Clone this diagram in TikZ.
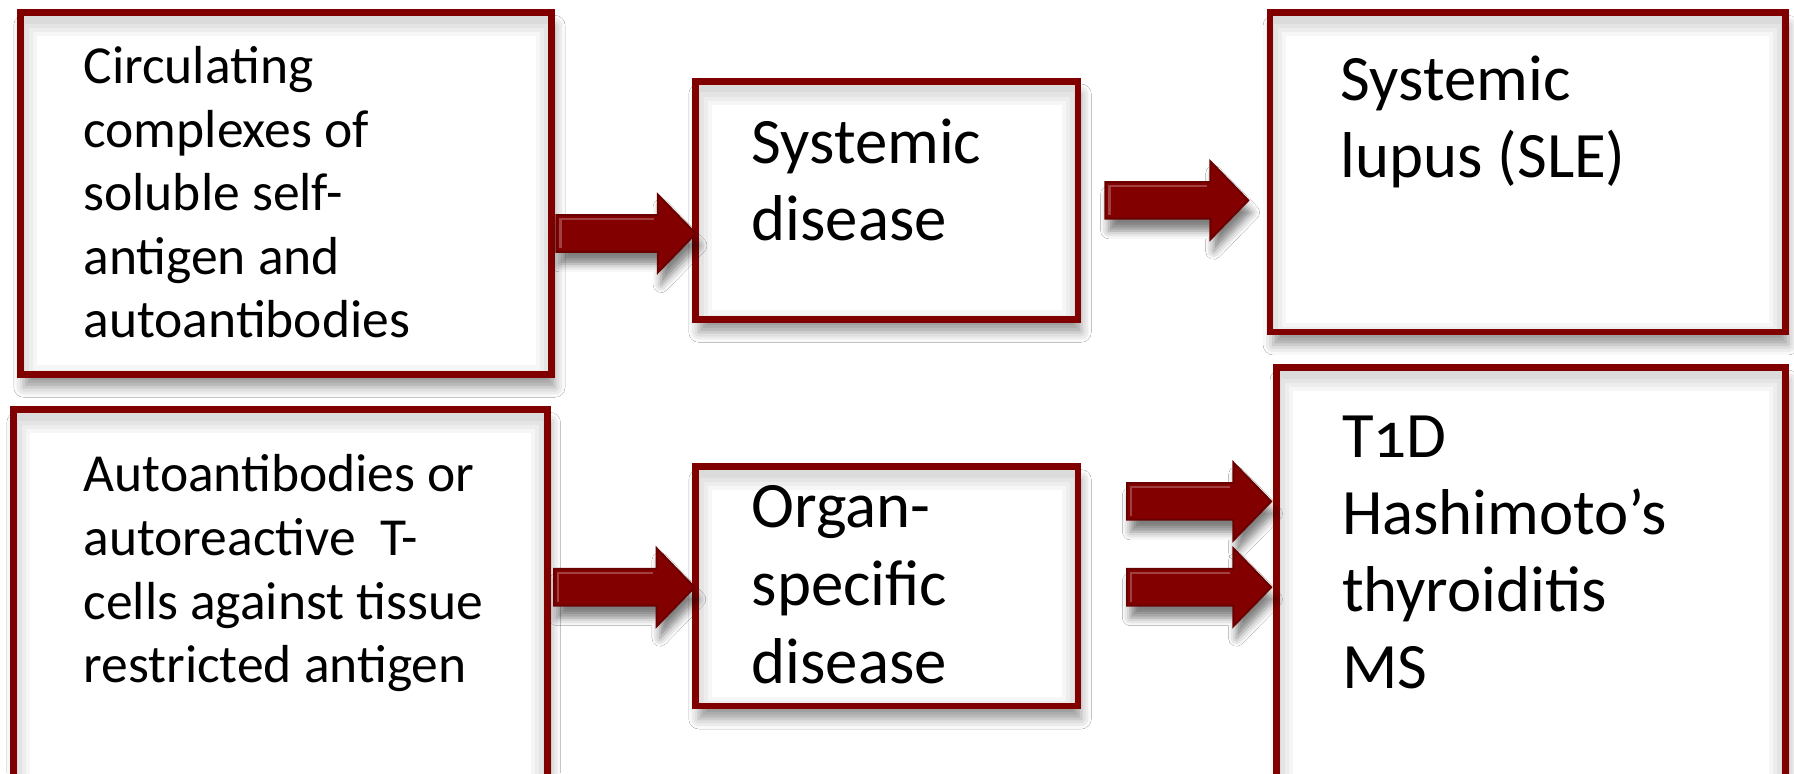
\documentclass[tikz,border=0pt]{standalone}
\usepackage{fontspec}
\setmainfont{Carlito}
\usetikzlibrary{calc,shadows.blur}
\definecolor{boxred}{HTML}{800000}
\definecolor{arrowred}{HTML}{820000}
\definecolor{arrowdark}{HTML}{6A0000}
\newcommand\txtlines[1]{\begin{tabular}[t]{@{}l@{}}#1\end{tabular}}
\newcommand\uu{0.28453pt}
\tikzset{
  diagbox/.style={draw=boxred, line width=1.7pt, fill=white, rectangle,
    outer sep=0pt, inner sep=0pt, anchor=north west,
    blur shadow={shadow xshift=0.8pt, shadow yshift=-3.2pt, shadow blur radius=2.5pt, shadow opacity=40}},
  txt/.style={anchor=base west, inner sep=0pt, outer sep=0pt, text=black},
  smalltxt/.style={font=\fontsize{13.3}{15.8}\selectfont},
  largetxt/.style={font=\fontsize{16.1}{19.1}\selectfont},
  fatarrow/.style={fill=arrowred, draw=arrowdark, line width=0.5pt, line join=miter,
    blur shadow={shadow xshift=0.8pt, shadow yshift=-3pt, shadow blur radius=2pt, shadow opacity=50}},
}
% #1 start anchor, #2 start x offset, #3 tip anchor, #4 tip x offset, #5 y (downward units)
\newcommand\fatarr[5]{%
  \path[fatarrow] let \p1=(#1), \p2=(#3) in
    ({\x1+#2*\uu}, {-#5*\uu+4.55pt}) -- ({\x2+#4*\uu-9.39pt}, {-#5*\uu+4.55pt})
    -- ({\x2+#4*\uu-9.39pt}, {-#5*\uu+9.67pt}) -- ({\x2+#4*\uu}, {-#5*\uu})
    -- ({\x2+#4*\uu-9.39pt}, {-#5*\uu-9.67pt}) -- ({\x2+#4*\uu-9.39pt}, {-#5*\uu-4.55pt})
    -- ({\x1+#2*\uu}, {-#5*\uu-4.55pt}) -- cycle;
  \path[draw=white, opacity=0.25, line width=0.6pt] let \p1=(#1), \p2=(#3) in
    ({\x1+#2*\uu+1pt}, {-#5*\uu-3.6pt}) -- ({\x1+#2*\uu+1pt}, {-#5*\uu+3.6pt})
    -- ({\x2+#4*\uu-10.3pt}, {-#5*\uu+3.6pt});
}
\newcommand\innershade[1]{%
  \begin{scope}
    \clip (#1.south west) rectangle (#1.north east);
    \foreach \w in {2,4,6,8}
      \draw[black, opacity=0.035, line width=\w pt]
        ([yshift=-1.8pt]#1.south west) rectangle ([yshift=-1.8pt]#1.north east);
  \end{scope}
  \draw[boxred, line width=1.7pt] (#1.south west) rectangle (#1.north east);
}
\begin{document}
\begin{tikzpicture}[x=0.01cm,y=0.01cm]
\fill[white] (0,0) rectangle (1568,-676);
\useasboundingbox (0,0) rectangle (1568,-676);
\clip (0,0) rectangle (1568,-676);

% boxes
\node[diagbox, minimum width=4.64cm, minimum height=3.16cm] (A) at (18,-11) {};
\node[diagbox, minimum width=4.66cm, minimum height=3.42cm] (B) at (12,-358) {};
\node[diagbox, minimum width=3.34cm, minimum height=2.08cm] (C) at (608,-71) {};
\node[diagbox, minimum width=3.34cm, minimum height=2.09cm] (D) at (608,-408) {};
\node[diagbox, minimum width=4.50cm, minimum height=2.79cm] (E) at (1110,-11) {};
\node[diagbox, minimum width=4.44cm, minimum height=3.79cm] (F) at (1116,-321) {};
\innershade{A}
\innershade{B}
\innershade{C}
\innershade{D}
\innershade{E}
\innershade{F}

% texts
\node[txt, smalltxt] (At) at (73,-73) {\txtlines{Circulating\\complexes of\\soluble self-\\antigen and\\autoantibodies}};
\node[txt, smalltxt] (Bt) at (73,-430) {\txtlines{Autoantibodies or\\autoreactive\ \ T-\\cells against tissue\\restricted antigen}};
\node[txt, largetxt] (Ct) at (657,-143) {\txtlines{Systemic\\disease}};
\node[txt, font=\fontsize{16.1}{19.35}\selectfont] (Dt) at (657,-461) {\txtlines{Organ-\\specific\\disease}};
\node[txt, largetxt] (Et) at (1172,-88) {\txtlines{Systemic\\lupus (SLE)}};
\node[txt, largetxt] (Ft) at (1173,-400) {\txtlines{T{\addfontfeature{Numbers=OldStyle}1}D\\Hashimoto’s\\thyroiditis\\MS}};

% arrows
\fatarr{A.east}{4}{C.west}{0}{204}
\fatarr{C.east}{24}{E.west}{-19}{175}
\fatarr{B.east}{6}{D.west}{-1}{513}
\fatarr{D.east}{43}{F.west}{-5}{438}
\fatarr{D.east}{43}{F.west}{-5}{513}
\end{tikzpicture}
\end{document}
